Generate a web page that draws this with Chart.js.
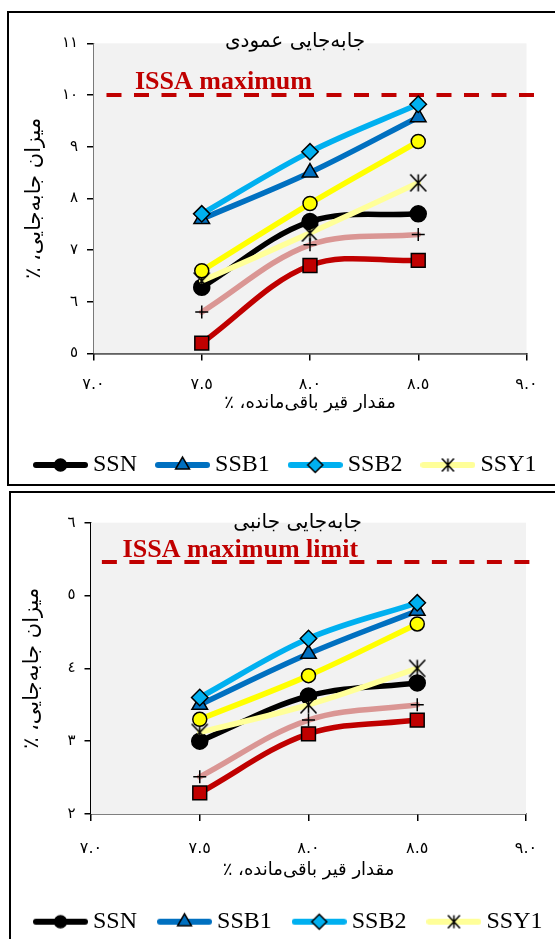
<!DOCTYPE html>
<html>
<head>
<meta charset="utf-8">
<script src="https://cdn.jsdelivr.net/npm/chart.js@4.4.1/dist/chart.umd.min.js"></script>
<style>
html,body{margin:0;padding:0;width:555px;height:939px;overflow:hidden;background:#fff;}
.box{position:absolute;border:2px solid #000;box-sizing:border-box;}
canvas{position:absolute;left:0;}
</style>
</head>
<body>
<div class="box" style="left:7px;top:11px;width:600px;height:475px"></div>
<div class="box" style="left:9px;top:491px;width:600px;height:520px"></div>
<canvas id="c1" width="600" height="490" style="top:0px"></canvas>
<canvas id="c2" width="600" height="460" style="top:488px"></canvas>
<script>
// ---------- data ----------
const seriesNames = ['SSN', 'SSB1', 'SSB2', 'SSY1', 'SSY2', 'SSR1', 'SSR2'];
const legendNames = ['SSN', 'SSB1', 'SSB2', 'SSY1'];
const xValues = [7.5, 8.0, 8.5];
const xTickLabels = ['٧.٠', '٧.٥', '٨.٠', '٨.٥', '٩.٠'];

// vertical displacement (top chart)
const vertSSN  = [6.28, 7.55, 7.70];
const vertSSB1 = [7.60, 8.50, 9.57];
const vertSSB2 = [7.70, 8.90, 9.82];
const vertSSY1 = [6.40, 7.33, 8.30];
const vertSSY2 = [6.60, 7.90, 9.10];
const vertSSR1 = [5.80, 7.10, 7.30];
const vertSSR2 = [5.20, 6.70, 6.80];
const vertLimit = 10;
const vertLimitX = [7.06, 9.09];
const vertYTicks = ['٥', '٦', '٧', '٨', '٩', '١٠', '١١'];

// lateral displacement (bottom chart)
const latSSN  = [3.00, 3.62, 3.80];
const latSSB1 = [3.50, 4.20, 4.79];
const latSSB2 = [3.60, 4.41, 4.90];
const latSSY1 = [3.12, 3.50, 4.00];
const latSSY2 = [3.30, 3.90, 4.61];
const latSSR1 = [2.51, 3.29, 3.50];
const latSSR2 = [2.29, 3.10, 3.29];
const latLimit = 5.46;
const latLimitX = [7.05, 9.03];
const latYTicks = ['٢', '٣', '٤', '٥', '٦'];

const titleVert = 'جابه‌جایی عمودی';
const titleLat = 'جابه‌جایی جانبی';
const yTitle = 'میزان جابه‌جایی، ٪\u200F';
const xTitle = 'مقدار قیر باقی‌مانده، ٪\u200F';
const limitTextVert = 'ISSA maximum';
const limitTextLat = 'ISSA maximum limit';

// ---------- styles ----------
const ast = document.createElement('canvas');
ast.width = 19; ast.height = 20;
(function () {
  const g = ast.getContext('2d');
  g.strokeStyle = '#000'; g.lineWidth = 1.6;
  g.beginPath();
  g.moveTo(9.5, 1.5); g.lineTo(9.5, 18.5);
  g.moveTo(1.5, 1.5); g.lineTo(17.5, 18.5);
  g.moveTo(17.5, 1.5); g.lineTo(1.5, 18.5);
  g.stroke();
})();
const astSmall = document.createElement('canvas');
astSmall.width = 15; astSmall.height = 16;
(function () {
  const g = astSmall.getContext('2d');
  g.strokeStyle = '#000'; g.lineWidth = 1.5;
  g.beginPath();
  g.moveTo(7.5, 1.5); g.lineTo(7.5, 14.5);
  g.moveTo(1.5, 1.5); g.lineTo(13.5, 14.5);
  g.moveTo(13.5, 1.5); g.lineTo(1.5, 14.5);
  g.stroke();
})();

const styles = {
  SSN:  {color: '#000000', fill: '#000000', point: 'circle',   r: 8,   lr: 6},
  SSB1: {color: '#0070C0', fill: '#0070C0', point: 'triangle', r: 9,   lr: 8},
  SSB2: {color: '#00B0F0', fill: '#00B0F0', point: 'rectRot',  r: 8.2, lr: 7.5},
  SSY1: {color: '#FFFF99', fill: '#000000', point: ast,        r: 8,   lr: 8, legendPoint: astSmall},
  SSY2: {color: '#FFFF00', fill: '#FFFF00', point: 'circle',   r: 7,   lr: 6},
  SSR1: {color: '#DA9694', fill: '#000000', point: 'cross',    r: 6.5, lr: 6},
  SSR2: {color: '#C00000', fill: '#C00000', point: 'rect',     r: 9.8, lr: 8}
};

function drawMarker(g, st, x, y, r) {
  const p = st.legendPoint || st.point;
  if (p instanceof HTMLCanvasElement) {
    g.drawImage(p, x - p.width / 2, y - p.height / 2);
    return;
  }
  g.fillStyle = st.fill; g.strokeStyle = '#000'; g.lineWidth = 1.5;
  Chart.helpers.drawPoint(g, {pointStyle: p, radius: r, borderWidth: 1.5, rotation: 0}, x, y);
}
function legendImage(name) {
  const st = styles[name];
  const c = document.createElement('canvas');
  c.width = 55; c.height = 22;
  const g = c.getContext('2d');
  g.strokeStyle = st.color; g.lineWidth = 6; g.lineCap = 'round';
  g.beginPath(); g.moveTo(3, 11); g.lineTo(52, 11); g.stroke();
  drawMarker(g, st, 27.5, 11, st.lr);
  return c;
}
const legendImgs = {};
legendNames.forEach(n => legendImgs[n] = legendImage(n));

const bgPlugin = {
  id: 'decor',
  beforeDatasetsDraw(chart, args, o) {
    const {ctx, chartArea: a} = chart;
    ctx.save();
    ctx.fillStyle = '#F2F2F2';
    ctx.fillRect(a.left, a.top, a.right - a.left, a.bottom - a.top);
    ctx.restore();
  },
  afterDatasetsDraw(chart, args, o) {
    const {ctx, chartArea: a} = chart;
    const y = chart.scales.y.getPixelForValue(o.limit);
    ctx.save();
    ctx.font = 'bold 26px "Liberation Serif"';
    ctx.fillStyle = '#C00000';
    ctx.textAlign = 'left';
    ctx.textBaseline = 'alphabetic';
    ctx.fillText(o.limitText, a.left + o.dx, y + o.dy);
    ctx.font = '20px "DejaVu Sans"';
    ctx.fillStyle = '#000';
    ctx.textAlign = 'center';
    ctx.textBaseline = 'middle';
    ctx.fillText(o.title, o.titleX, a.top + o.titleDy);
    ctx.restore();
  }
};

function makeChart(id, series, limit, limitX, yMin, yMax, yTicks, cfg) {
  const datasets = [{
    label: 'limit',
    data: limitX.map(x => ({x: x, y: limit})),
    borderColor: '#C00000', borderWidth: 4, borderDash: [15, 12.5],
    pointRadius: 0, tension: 0, clip: false, order: 10
  }];
  seriesNames.forEach((name, i) => {
    const st = styles[name];
    datasets.push({
      label: name,
      data: xValues.map((x, k) => ({x: x, y: series[i][k]})),
      borderColor: st.color, borderWidth: 5.5, tension: 0.35,
      borderCapStyle: 'round', borderJoinStyle: 'round',
      pointStyle: st.point, pointRadius: st.r,
      pointBackgroundColor: st.fill, pointBorderColor: '#000', pointBorderWidth: 1.5,
      fill: false, order: -i
    });
  });
  const font = {family: 'DejaVu Sans', size: 15};
  const xfont = {family: 'DejaVu Sans', size: 16};
  return new Chart(document.getElementById(id), {
    type: 'line',
    data: {datasets},
    plugins: [bgPlugin],
    options: {
      responsive: false, animation: false, devicePixelRatio: 1,
      layout: {padding: cfg.pad},
      scales: {
        x: {
          type: 'linear', min: 7, max: 9,
          ticks: {stepSize: 0.5, autoSkip: false, maxRotation: 0, padding: cfg.xTickPad, font: xfont, color: '#000',
                  callback: (v, i) => xTickLabels[i]},
          grid: {drawOnChartArea: false, drawTicks: true, tickLength: 7, color: '#000', lineWidth: 1.5},
          border: {color: '#000', width: 1.5},
          title: {display: true, text: xTitle, color: '#000', font: {family: 'DejaVu Sans', size: 18},
                  padding: {top: 0, bottom: cfg.xTitlePad}},
          afterFit: s => { s.height = cfg.xHeight; s.paddingRight = cfg.rightPad; }
        },
        y: {
          type: 'linear', min: yMin, max: yMax,
          ticks: {stepSize: 1, padding: 9, font, color: '#000', callback: (v, i) => yTicks[i]},
          grid: {drawOnChartArea: false, drawTicks: true, tickLength: 6.5, color: '#000', lineWidth: 1.5},
          border: {color: '#000', width: 1.5},
          title: {display: true, text: yTitle, color: '#000', font: {family: 'DejaVu Sans', size: 21},
                  padding: {top: 7.4, bottom: 0}},
          afterFit: s => { s.width = cfg.yWidth; }
        }
      },
      plugins: {
        tooltip: {enabled: false},
        title: {display: false},
        decor: cfg.decor,
        legend: {
          position: 'bottom', align: 'start',
          labels: {
            usePointStyle: true, pointStyleWidth: 41, padding: cfg.legendPad,
            color: '#000', font: {family: 'Liberation Serif', size: 24},
            generateLabels: () => legendNames.map(n => ({
              text: n, pointStyle: legendImgs[n], datasetIndex: seriesNames.indexOf(n),
              fillStyle: '#000', strokeStyle: '#000', lineWidth: 0, hidden: false, fontColor: '#000'
            }))
          }
        }
      }
    }
  });
}

makeChart('c1',
  [vertSSN, vertSSB1, vertSSB2, vertSSY1, vertSSY2, vertSSR1, vertSSR2],
  vertLimit, vertLimitX, 5, 11, vertYTicks,
  {pad: {left: 15, right: 0, top: 43.3, bottom: 3}, xHeight: 74.6, rightPad: 73.5, yWidth: 78.5,
   xTickPad: 15, xTitlePad: 13.9, legendPad: 25,
   decor: {limit: vertLimit, limitText: limitTextVert, dx: 41.5, dy: -6.4, title: titleVert, titleX: 295, titleDy: -1.5}});

makeChart('c2',
  [latSSN, latSSB1, latSSB2, latSSY1, latSSY2, latSSR1, latSSR2],
  latLimit, latLimitX, 2, 6, latYTicks,
  {pad: {left: 13, right: 0, top: 34.7, bottom: 4.3}, xHeight: 68.7, rightPad: 74, yWidth: 78,
   xTickPad: 18.4, xTitlePad: 1.9, legendPad: 27,
   decor: {limit: latLimit, limitText: limitTextLat, dx: 31.6, dy: -4.7, title: titleLat, titleX: 297.6, titleDy: 0.3}});
</script>
</body>
</html>
